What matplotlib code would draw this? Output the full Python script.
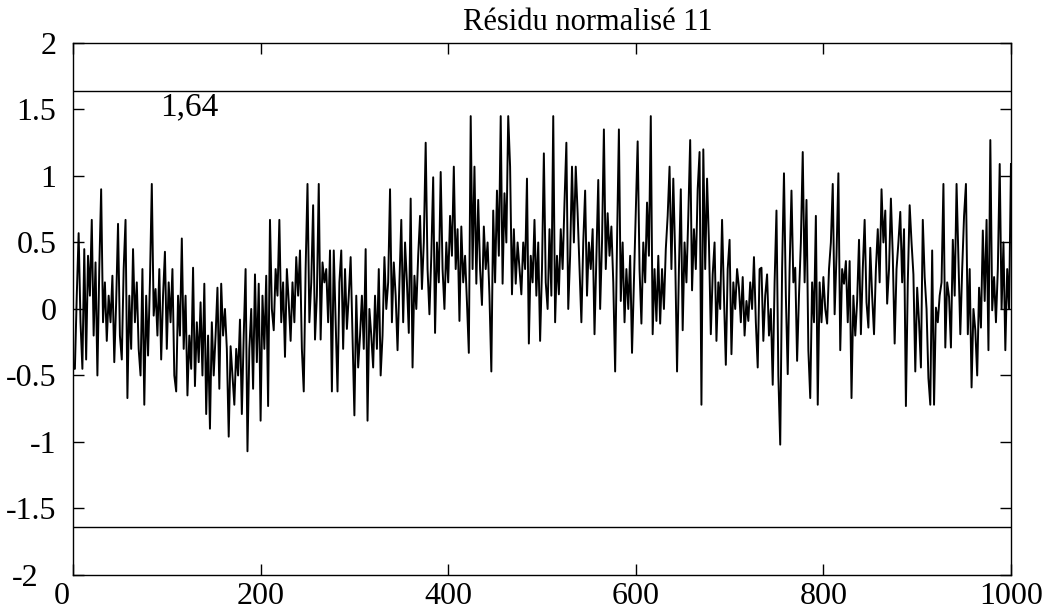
import numpy as np
import matplotlib
matplotlib.use("Agg")
import matplotlib.pyplot as plt
import matplotlib.transforms as mtransforms
from matplotlib.ticker import FormatStrFormatter

# Normalised residual, sampled every 2 steps (blocks of 50 steps)
residu_000 = [-0.45, -0.45, 0.1, 0.57, -0.1, -0.45, 0.45, -0.38, 0.4, 0.1, 0.67, -0.2, 0.35,
              -0.5, 0.3, 0.9, -0.1, 0.2, -0.24, 0.1, -0.1, 0.25, -0.4, 0.05, 0.64]
residu_050 = [-0.2, -0.38, 0.3, 0.67, -0.67, 0.1, -0.3, 0.45, -0.1, 0.2, -0.3, -0.5, 0.3,
              -0.72, 0.1, -0.35, 0.2, 0.94, -0.05, 0.15, -0.2, 0.3, -0.38, 0.1, 0.43]
residu_100 = [-0.3, 0.2, -0.1, 0.3, -0.5, -0.62, 0.1, -0.2, 0.53, -0.3, 0.1, -0.65, -0.2,
              -0.45, 0.31, -0.58, -0.1, -0.4, 0.05, -0.5, 0.19, -0.79, -0.2, -0.9, -0.1]
residu_150 = [-0.5, -0.2, 0.16, -0.6, 0.19, -0.2, 0.0, -0.3, -0.96, -0.28, -0.5, -0.72, -0.3,
              -0.5, -0.08, -0.79, -0.2, 0.3, -1.07, -0.3, 0.0, -0.6, 0.26, -0.4, 0.19]
residu_200 = [-0.84, 0.1, -0.3, 0.25, -0.73, 0.67, 0.0, -0.16, 0.3, 0.1, 0.67, -0.1, 0.2,
              -0.36, 0.3, 0.05, -0.24, 0.2, -0.1, 0.39, 0.1, 0.44, -0.3, -0.62, 0.3]
residu_250 = [0.94, -0.1, 0.2, 0.78, -0.23, 0.1, 0.94, -0.23, 0.35, 0.2, 0.3, -0.1, 0.44,
              -0.62, 0.44, -0.1, -0.62, 0.2, 0.44, -0.3, 0.3, -0.15, 0.1, 0.39, -0.2]
residu_300 = [-0.8, 0.1, -0.44, -0.2, 0.1, -0.3, 0.45, -0.84, 0.0, -0.2, -0.44, 0.1, -0.3,
              0.3, -0.5, -0.2, 0.39, 0.0, 0.2, 0.9, -0.1, 0.35, 0.1, -0.31, 0.2]
residu_350 = [0.67, -0.1, 0.5, 0.2, -0.18, 0.83, -0.44, 0.25, 0.0, 0.4, 0.7, 0.15, 0.5,
              1.25, 0.3, -0.04, 0.4, 0.99, -0.18, 0.5, 0.2, 1.03, 0.3, 0.0, 0.5]
residu_400 = [0.2, 0.7, 0.4, 1.07, 0.3, 0.6, -0.09, 0.62, 0.2, 0.4, 0.05, -0.33, 1.45,
              0.3, 1.07, 0.19, 0.82, 0.3, 0.03, 0.62, 0.3, 0.5, 0.1, -0.47, 0.74]
residu_450 = [0.2, 0.89, 0.4, 1.45, 0.19, 0.87, 0.5, 1.45, 1.07, 0.11, 0.6, 0.19, 0.5,
              0.3, 0.11, 0.5, 0.3, 0.98, -0.26, 0.4, 0.2, 0.67, 0.1, 0.5, -0.24]
residu_500 = [0.3, 1.17, 0.2, 0.0, 0.6, 0.1, 1.45, -0.1, 0.4, 0.11, 0.6, 0.3, 0.8,
              1.25, 0.0, 0.4, 1.07, 0.5, 1.07, 0.72, 0.3, -0.1, 0.5, 0.89, 0.1]
residu_550 = [0.5, 0.3, 0.6, -0.19, 0.4, 0.97, 0.0, 0.5, 1.35, 0.3, 0.72, 0.4, 0.62,
              0.2, -0.47, 0.5, 1.35, 0.06, 0.5, -0.1, 0.3, 0.0, 0.4, -0.33, 0.2]
residu_600 = [0.7, 1.26, 0.3, -0.11, 0.5, 0.2, 0.8, 0.4, 1.45, -0.19, 0.3, -0.09, 0.4,
              -0.11, 0.3, 0.0, 0.45, 0.7, 1.07, 0.3, 0.98, 0.4, -0.47, 0.3, 0.9]
residu_650 = [-0.16, 0.5, 0.2, 0.7, 1.27, 0.14, 0.6, 0.3, 0.9, 1.18, -0.72, 1.2, 0.3,
              0.98, 0.5, -0.19, 0.26, 0.5, -0.24, 0.2, 0.0, 0.67, 0.1, -0.42, 0.3]
residu_700 = [0.52, -0.34, 0.2, 0.0, 0.3, 0.16, -0.1, 0.24, -0.2, 0.06, -0.09, 0.2, 0.0,
              0.39, -0.1, -0.44, 0.3, 0.31, -0.24, 0.1, 0.26, -0.2, 0.0, -0.57, 0.2]
residu_750 = [0.74, -0.5, -1.02, 0.3, 1.02, 0.1, -0.49, 0.3, 0.89, 0.2, 0.31, -0.39, 0.1,
              0.5, 1.18, 0.2, 0.82, -0.31, -0.67, 0.2, -0.1, 0.7, -0.72, 0.2, -0.1]
residu_800 = [0.24, 0.0, -0.11, 0.3, 0.5, 0.94, -0.04, 0.4, 1.02, -0.31, 0.3, 0.19, 0.36,
              -0.1, 0.36, -0.67, 0.1, -0.2, 0.06, 0.52, -0.19, 0.3, 0.67, 0.05, -0.14]
residu_850 = [0.46, 0.1, -0.19, 0.3, 0.6, 0.2, 0.9, 0.5, 0.74, 0.04, 0.3, 0.83, 0.4,
              -0.26, 0.3, 0.5, 0.73, 0.2, 0.6, -0.73, 0.2, 0.78, 0.5, 0.26, -0.47]
residu_900 = [0.16, -0.1, -0.44, 0.67, 0.24, 0.0, -0.52, -0.72, 0.44, -0.72, 0.01, -0.1, 0.1,
              0.2, 0.94, -0.29, 0.2, 0.09, -0.29, 0.52, 0.1, 0.94, 0.39, -0.19, 0.3]
residu_950 = [0.7, 0.94, -0.19, 0.3, -0.59, 0.0, -0.16, -0.5, 0.16, -0.14, 0.59, 0.06, 0.67,
              -0.31, 1.27, -0.01, 0.24, -0.1, 0.3, 1.09, 0.0, 0.5, -0.31, 0.3, 0.0, 1.09]

seuil = 1.64
seuil_label = "1,64"
titre = "Résidu normalisé 11"
x_ticks = [0, 200, 400, 600, 800, 1000]
y_ticks = [-2, -1.5, -1, -0.5, 0, 0.5, 1, 1.5, 2]

residu = np.concatenate([residu_000, residu_050, residu_100, residu_150, residu_200,
                         residu_250, residu_300, residu_350, residu_400, residu_450,
                         residu_500, residu_550, residu_600, residu_650, residu_700,
                         residu_750, residu_800, residu_850, residu_900, residu_950])
t = np.arange(len(residu)) * 1000.0 / (len(residu) - 1)

plt.rcParams["font.family"] = ["Liberation Serif", "DejaVu Serif"]
plt.rcParams["axes.unicode_minus"] = False

fig = plt.figure(figsize=(10.46, 6.12), dpi=100)
ax = fig.add_axes([0.0698, 0.0605, 0.8967, 0.8693])

ax.plot(t, residu, color="black", lw=1.4)
ax.axhline(seuil, color="black", lw=1.0)
ax.axhline(-seuil, color="black", lw=1.0)
ax.text(93, 1.46, seuil_label, fontsize=24, ha="left", va="baseline")

ax.set_xlim(0, 1000)
ax.set_ylim(-2, 2)
ax.set_xticks(x_ticks)
ax.set_yticks(y_ticks)
ax.yaxis.set_major_formatter(FormatStrFormatter("%g"))
ax.tick_params(direction="in", length=8, width=1.0, labelsize=23,
               top=True, right=True)
ax.tick_params(axis="y", pad=12)
ax.tick_params(axis="x", pad=5)
for s in ax.spines.values():
    s.set_linewidth(1.0)
ax.text(0.549, 1.012, titre, transform=ax.transAxes, fontsize=22,
        ha="center", va="bottom")

# Corner labels sit a little further out so they do not collide
fig.canvas.draw()
shift_left = mtransforms.ScaledTranslation(-11 / 100, 0, fig.dpi_scale_trans)
ax.get_xticklabels()[0].set_transform(ax.get_xticklabels()[0].get_transform() + shift_left)
shift_y = mtransforms.ScaledTranslation(-18 / 100, 0, fig.dpi_scale_trans)
ax.get_yticklabels()[0].set_transform(ax.get_yticklabels()[0].get_transform() + shift_y)

fig.savefig("out.png", dpi=100, facecolor="white")
